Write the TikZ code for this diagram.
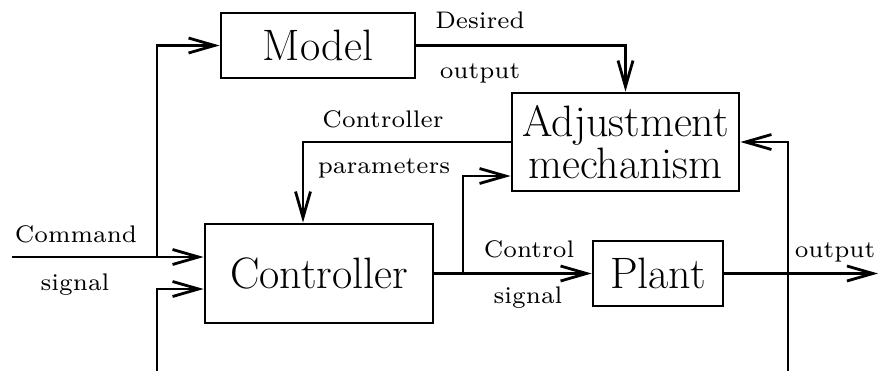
\documentclass[tikz,border=0pt]{standalone}
\usepackage{fontspec}
\usetikzlibrary{arrows.meta,calc}
\newfontfamily\boxfont{lmroman17-regular.otf}
\newfontfamily\lblfont{lmroman7-regular.otf}
\begin{document}
\begin{tikzpicture}[x=0.5pt,y=-0.5pt,
  line width=1.4pt,
  blk/.style={draw, inner sep=0pt, font=\boxfont\fontsize{22}{16.5}\selectfont, align=center},
  lbl/.style={inner sep=0pt, anchor=base, font=\lblfont\fontsize{12}{14}\selectfont},
  arr/.style={-{Straight Barb[length=13pt,width=7.5pt]}},
  ]
\useasboundingbox (0,0) rectangle (879,370);

% blocks
\node[blk, minimum width=97pt, minimum height=32.5pt] (model) at (318,45.5) {Model};
\node[blk, minimum width=113.5pt, minimum height=49pt] (adj) at (625.5,142) {Adjustment\\mechanism};
\node[blk, minimum width=114pt, minimum height=49.5pt] (ctrl) at (319,273.5) {Controller};
\node[blk, minimum width=65pt, minimum height=32.5pt] (plant) at (658,273.5) {Plant};

% junctions and free ends
\coordinate (cmd) at (12,257);
\coordinate (jl) at (157,257);
\coordinate (fbl) at (157,382);
\coordinate (fbc) at (157,289);
\coordinate (fbr) at (788,382);
\coordinate (br) at (463,273.5);
\coordinate (out) at (878,273.5);
\coordinate (adjin) at ($(adj.west)+(0,34)$);
\coordinate (ctrlin) at ($(ctrl.north)+(-16,0)$);

% connectors
\draw[arr] (cmd) -- (cmd -| ctrl.west);
\draw[arr] (jl) |- (model.west);
\draw[arr] (model.east) -| (adj.north);
\draw[arr] (adj.west) -| (ctrlin);
\draw[arr] (ctrl.east) -- (plant.west);
\draw[arr] (br) |- (adjin);
\draw[arr] (plant.east) -- (out);
\draw[arr] (fbl) -- (fbc) -- (fbc -| ctrl.west);
\draw (fbl) -- (fbr);
\draw[arr] (fbr) |- (adj.east);

% signal labels
\node[lbl] (l1) at (480,28) {Desired};
\node[lbl] (l2) at (480,78) {output};
\node[lbl] (l3) at (383,127) {Controller};
\node[lbl] (l4) at (384,173) {parameters};
\node[lbl] (l5) at (76,242) {Command};
\node[lbl] (l6) at (75,290) {signal};
\node[lbl] (l7) at (529,257) {Control};
\node[lbl] (l8) at (528,303) {signal};
\node[lbl] (l9) at (835,257) {output};
\end{tikzpicture}
\end{document}
